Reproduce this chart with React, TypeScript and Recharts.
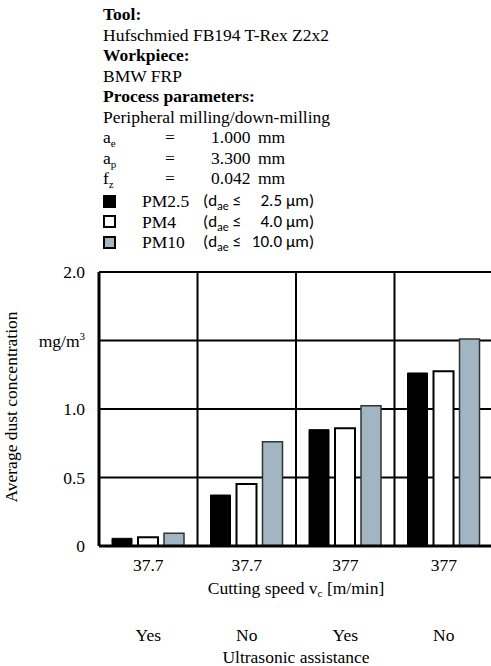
import { BarChart, Bar, XAxis, YAxis, CartesianGrid } from 'recharts';

const speeds = ['37.7', '37.7', '377', '377'];
const ultrasonic = ['Yes', 'No', 'Yes', 'No'];
const pm25 = [0.056, 0.372, 0.849, 1.263];
const pm4 = [0.063, 0.453, 0.859, 1.275];
const pm10 = [0.093, 0.761, 1.024, 1.511];
const yTicks = [0, 0.5, 1.0, 1.5, 2.0];

const SERIF = '"Liberation Serif", "Times New Roman", serif';
const SANS = 'Carlito, "Liberation Sans", sans-serif';
const GRAY = '#a1b5c3';
const FS = 17.5;

const data = speeds.map((s, i) => ({
  id: i,
  speed: s,
  us: ultrasonic[i],
  pm25: pm25[i],
  pm4: pm4[i],
  pm10: pm10[i],
}));

// line centres of the header block
const rowY = [14, 34.5, 55, 75.5, 96, 116.5, 137, 157.5, 178, 201, 221.5, 242];
const LH = 20;

function Line({ row, children, left = 103, style }: { row: number; children: any; left?: number; style?: any }) {
  return (
    <div
      style={{
        position: 'absolute',
        left,
        top: rowY[row] - LH / 2,
        lineHeight: `${LH}px`,
        whiteSpace: 'nowrap',
        ...style,
      }}
    >
      {children}
    </div>
  );
}

const subStyle = { fontSize: 11, verticalAlign: '-4px' } as const;

function ParamRow({ row, sym, sub, value }: { row: number; sym: string; sub: string; value: string }) {
  return (
    <>
      <Line row={row}>
        {sym}
        <span style={subStyle}>{sub}</span>
      </Line>
      <Line row={row} left={165}>=</Line>
      <Line row={row} left={211}>{value}</Line>
      <Line row={row} left={258}>mm</Line>
    </>
  );
}

function LegendRow({ row, name, size, fill }: { row: number; name: string; size: string; fill: string }) {
  return (
    <>
      <div
        style={{
          position: 'absolute',
          left: 103,
          top: rowY[row] - 6.5,
          width: 13,
          height: 13,
          boxSizing: 'border-box',
          background: fill,
          border: '2px solid #000',
        }}
      />
      <Line row={row} left={142}>{name}</Line>
      <Line row={row} left={203} style={{ fontFamily: SANS, fontSize: 17 }}>
        (d<span style={{ fontSize: 12, verticalAlign: '-4px' }}>ae</span> ≤
      </Line>
      <Line row={row} left={232} style={{ fontFamily: SANS, fontSize: 17, width: 50, textAlign: 'right' }}>
        {size}
      </Line>
      <Line row={row} left={286} style={{ fontFamily: SANS, fontSize: 17 }}>
        µm)
      </Line>
    </>
  );
}

const XTick = (props: any) => {
  const { x, index } = props;
  return (
    <g fontFamily={SERIF} fontSize={FS} fill="#000">
      <text x={x} y={571} textAnchor="middle">
        {speeds[index]}
      </text>
      <text x={x} y={641} textAnchor="middle">
        {ultrasonic[index]}
      </text>
    </g>
  );
};

const YTick = (props: any) => {
  const { y, payload } = props;
  const v = payload.value;
  return (
    <text x={85} y={y + 6} textAnchor="end" fontFamily={SERIF} fontSize={FS} fill="#000">
      {v === 1.5 ? (
        <>
          mg/m<tspan fontSize={11} dy={-7}>3</tspan>
        </>
      ) : v === 0 ? (
        '0'
      ) : (
        v.toFixed(1)
      )}
    </text>
  );
};

const XTitles = (props: any) => {
  const { viewBox } = props;
  const cx = viewBox.x + viewBox.width / 2;
  return (
    <g fontFamily={SERIF} fontSize={FS} fill="#000">
      <text x={cx} y={594} textAnchor="middle">
        Cutting speed v<tspan fontSize={11} dy={3}>c</tspan>
        <tspan dy={-3}> [m/min]</tspan>
      </text>
      <text x={cx} y={663} textAnchor="middle">
        Ultrasonic assistance
      </text>
    </g>
  );
};

const YTitle = () => (
  <text
    x={0}
    y={0}
    transform="translate(17 407) rotate(-90)"
    textAnchor="middle"
    fontFamily={SERIF}
    fontSize={FS}
    fill="#000"
  >
    Average dust concentration
  </text>
);

export default function App() {
  return (
    <div
      style={{
        position: 'absolute',
        left: 0,
        top: 0,
        width: 491,
        height: 666,
        overflow: 'hidden',
        background: '#fff',
        fontFamily: SERIF,
        fontSize: FS,
        color: '#000',
      }}
    >
      <BarChart
        width={495}
        height={666}
        data={data}
        margin={{ top: 272, right: 2, left: 0, bottom: 0 }}
        barSize={20}
        barGap={6}
      >
        <CartesianGrid
          stroke="#000"
          strokeWidth={2}
          verticalCoordinatesGenerator={({ offset }: any) =>
            [1, 2, 3].map((i) => offset.left + (offset.width * i) / 4)
          }
        />
        <XAxis
          dataKey="id"
          height={120}
          tickLine={false}
          axisLine={{ stroke: '#000', strokeWidth: 3 }}
          tick={<XTick />}
          interval={0}
          label={<XTitles />}
        />
        <YAxis
          width={99}
          domain={[0, 2]}
          ticks={yTicks}
          tickLine={false}
          axisLine={{ stroke: '#000', strokeWidth: 3 }}
          tick={<YTick />}
          label={<YTitle />}
        />
        <Bar dataKey="pm25" fill="#000" stroke="#000" strokeWidth={1} isAnimationActive={false} />
        <Bar dataKey="pm4" fill="#fff" stroke="#000" strokeWidth={2} isAnimationActive={false} />
        <Bar dataKey="pm10" fill={GRAY} stroke="#333" strokeWidth={1.5} isAnimationActive={false} />
      </BarChart>

      <Line row={0}>
        <b>Tool:</b>
      </Line>
      <Line row={1}>Hufschmied FB194 T-Rex Z2x2</Line>
      <Line row={2}>
        <b>Workpiece:</b>
      </Line>
      <Line row={3}>BMW FRP</Line>
      <Line row={4}>
        <b>Process parameters:</b>
      </Line>
      <Line row={5}>Peripheral milling/down-milling</Line>
      <ParamRow row={6} sym="a" sub="e" value="1.000" />
      <ParamRow row={7} sym="a" sub="p" value="3.300" />
      <ParamRow row={8} sym="f" sub="z" value="0.042" />
      <LegendRow row={9} name="PM2.5" size="2.5" fill="#000" />
      <LegendRow row={10} name="PM4" size="4.0" fill="#fff" />
      <LegendRow row={11} name="PM10" size="10.0" fill={GRAY} />
    </div>
  );
}
